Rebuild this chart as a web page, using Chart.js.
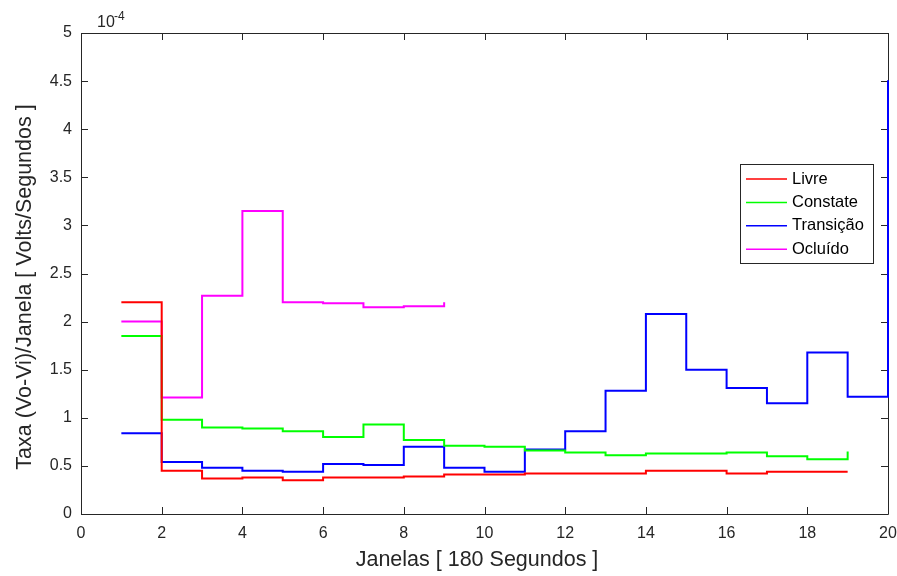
<!DOCTYPE html>
<html>
<head>
<meta charset="utf-8">
<script src="https://cdn.jsdelivr.net/npm/chart.js@4.4.1/dist/chart.umd.min.js"></script>
<style>
  html, body { margin: 0; padding: 0; background: #fff; }
  #wrap { width: 897px; height: 576px; }
</style>
</head>
<body>
<div id="wrap"><canvas id="myChart"></canvas></div>
<script>
// values in units of 10^-4 V/s per window
const livre = [2.20, 0.45, 0.37, 0.38, 0.35, 0.38, 0.38, 0.39, 0.41, 0.41, 0.42, 0.42, 0.42, 0.45, 0.45, 0.42, 0.44, 0.44, 0.44];
const constate = [1.85, 0.98, 0.90, 0.89, 0.86, 0.80, 0.93, 0.77, 0.71, 0.70, 0.66, 0.64, 0.61, 0.63, 0.63, 0.64, 0.60, 0.57, 0.65];
const transicao = [0.84, 0.54, 0.48, 0.45, 0.44, 0.52, 0.51, 0.70, 0.48, 0.44, 0.67, 0.86, 1.28, 2.08, 1.50, 1.31, 1.15, 1.68, 1.22, 4.51];
const ocluido = [2.00, 1.21, 2.27, 3.15, 2.20, 2.19, 2.15, 2.16, 2.20];

const seriesNames = ['Livre', 'Constate', 'Transição', 'Ocluído'];
const seriesColors = ['#ff0000', '#00ff00', '#0000ff', '#ff00ff'];
const xTicks = [0, 2, 4, 6, 8, 10, 12, 14, 16, 18, 20];
const yTicks = [0, 0.5, 1, 1.5, 2, 2.5, 3, 3.5, 4, 4.5, 5];

const xTitle = 'Janelas [ 180 Segundos ]';
const yTitle = 'Taxa (Vo-Vi)/Janela [ Volts/Segundos ]';

const axisColor = '#262626';
const fontFamily = '"Liberation Sans", Arial, sans-serif';

function toPoints(values) {
  return values.map((v, i) => ({ x: i + 1, y: v }));
}

// MATLAB-like box with inward ticks on all four sides, drawn under the lines
const boxPlugin = {
  id: 'box',
  beforeDatasetsDraw(chart) {
    const { ctx, chartArea: a, scales } = chart;
    ctx.save();
    ctx.strokeStyle = axisColor;
    ctx.lineWidth = 1;
    ctx.beginPath();
    ctx.rect(Math.round(a.left) + 0.5, Math.round(a.top) + 0.5, Math.round(a.right - a.left), Math.round(a.bottom - a.top));
    ctx.stroke();
    const len = 7;
    ctx.beginPath();
    xTicks.forEach(t => {
      const x = Math.round(scales.x.getPixelForValue(t)) + 0.5;
      ctx.moveTo(x, a.bottom); ctx.lineTo(x, a.bottom - len);
      ctx.moveTo(x, a.top); ctx.lineTo(x, a.top + len);
    });
    yTicks.forEach(t => {
      const y = Math.round(scales.y.getPixelForValue(t)) + 0.5;
      ctx.moveTo(a.left, y); ctx.lineTo(a.left + len, y);
      ctx.moveTo(a.right, y); ctx.lineTo(a.right - len, y);
    });
    ctx.stroke();

    // exponent label
    ctx.fillStyle = axisColor;
    ctx.textBaseline = 'alphabetic';
    ctx.textAlign = 'left';
    ctx.font = '16px ' + fontFamily;
    ctx.fillText('10', a.left + 16, 27);
    ctx.font = '12px ' + fontFamily;
    ctx.fillText('-4', a.left + 33, 20);

    // axis titles
    ctx.font = '21.5px ' + fontFamily;
    ctx.textAlign = 'center';
    ctx.fillText(xTitle, 477, 566);
    ctx.translate(31, 287);
    ctx.rotate(-Math.PI / 2);
    ctx.fillText(yTitle, 0, 0);
    ctx.restore();
  },
  afterDraw(chart) {
    const { ctx } = chart;
    ctx.save();
    const lx = 740, ly = 164, lw = 133, lh = 99;
    ctx.fillStyle = '#fff';
    ctx.fillRect(lx, ly, lw, lh);
    ctx.strokeStyle = axisColor;
    ctx.lineWidth = 1;
    ctx.strokeRect(lx + 0.5, ly + 0.5, lw, lh);
    ctx.font = '16.5px ' + fontFamily;
    ctx.textBaseline = 'middle';
    ctx.textAlign = 'left';
    chart.data.datasets.forEach((ds, i) => {
      const y = ly + 15 + i * 23.4;
      ctx.strokeStyle = ds.borderColor;
      ctx.lineWidth = 1.5;
      ctx.beginPath();
      ctx.moveTo(lx + 6, y); ctx.lineTo(lx + 47, y);
      ctx.stroke();
      ctx.fillStyle = '#000';
      ctx.fillText(ds.label, lx + 52, y);
    });
    ctx.restore();
  }
};

const ctx = document.getElementById('myChart');

new Chart(ctx, {
  type: 'line',
  data: {
    datasets: [livre, constate, transicao, ocluido].map((vals, i) => ({
      label: seriesNames[i],
      data: toPoints(vals),
      borderColor: seriesColors[i],
      backgroundColor: seriesColors[i],
      borderWidth: 2,
      pointRadius: 0,
      stepped: true,
      fill: false,
      clip: 4,
    }))
  },
  options: {
    responsive: true,
    maintainAspectRatio: false,
    animation: false,
    layout: {
      padding: { top: 33, right: 9, left: 0, bottom: 0 }
    },
    scales: {
      x: {
        type: 'linear',
        min: 0,
        max: 20,
        afterBuildTicks: scale => { scale.ticks = xTicks.map(v => ({ value: v })); },
        afterFit: scale => { scale.height = 62; scale.paddingLeft = 0; scale.paddingRight = 0; },
        grid: { display: false, drawTicks: false },
        border: { display: false },
        ticks: {
          padding: 10,
          color: axisColor,
          maxRotation: 0,
          autoSkip: false,
          font: { size: 16, family: fontFamily }
        }
      },
      y: {
        min: 0,
        max: 5,
        afterBuildTicks: scale => { scale.ticks = yTicks.map(v => ({ value: v })); },
        afterFit: scale => { scale.width = 81; scale.paddingTop = 0; scale.paddingBottom = 0; },
        grid: { display: false, drawTicks: false },
        border: { display: false },
        ticks: {
          padding: 9,
          color: axisColor,
          autoSkip: false,
          callback: v => String(v),
          font: { size: 16, family: fontFamily }
        }
      }
    },
    plugins: {
      legend: { display: false },
      tooltip: { enabled: false }
    }
  },
  plugins: [boxPlugin]
});
</script>
</body>
</html>
